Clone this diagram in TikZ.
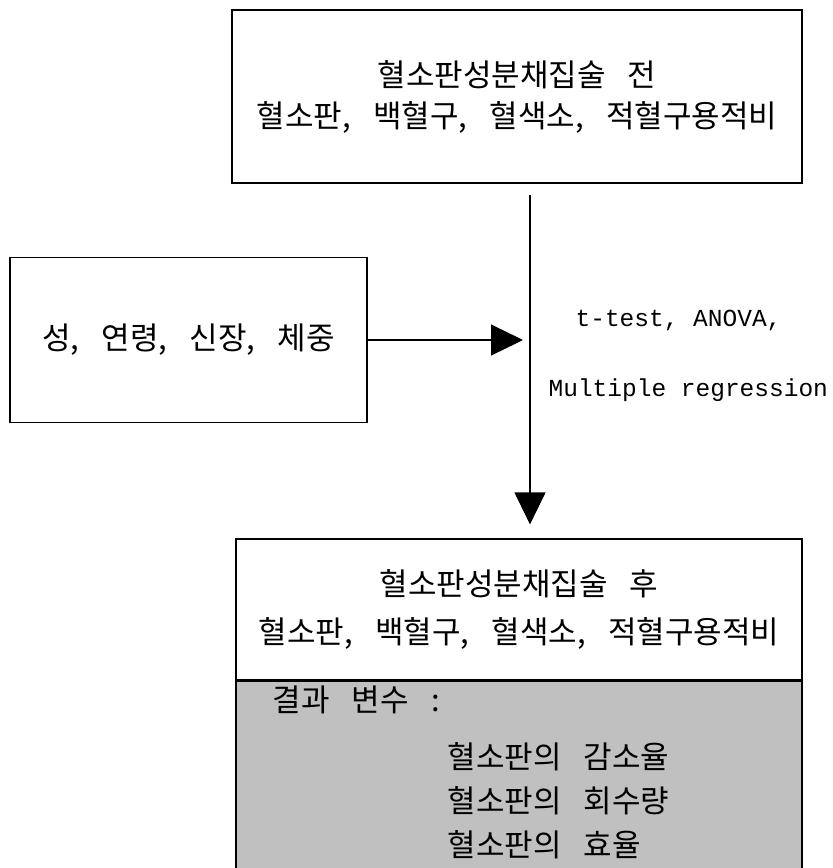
\documentclass[tikz,border=0pt]{standalone}
\usepackage{fontspec}
\setmainfont{Noto Sans CJK KR}[WordSpace=3.2]
\newfontfamily\monofont{Liberation Mono}
\usetikzlibrary{arrows.meta, positioning}
\definecolor{boxgray}{RGB}{192,192,192}

\tikzset{
  box/.style={draw, line width=1.2pt, inner sep=0pt, align=center,
    font=\fontsize{31}{41}\selectfont},
  stattext/.style={inner sep=0pt, font=\monofont\fontsize{24.5}{30}\selectfont},
  kortext/.style={inner sep=0pt, align=left, font=\fontsize{31}{44}\selectfont}
}

\begin{document}
\begin{tikzpicture}[>={Triangle[length=32pt, width=31pt]}, x=1pt, y=-1pt, line width=1.2pt]
\useasboundingbox (0,0) rectangle (833,868);

% boxes
\node[box, minimum width=570pt, minimum height=173pt] (before) at (517, 96.5)
  {혈소판성분채집술 전\\혈소판, 백혈구, 혈색소, 적혈구용적비};

\node[box, minimum width=357pt, minimum height=165pt] (covar) at (188.5, 340)
  {성, 연령, 신장, 체중};

\node[box, minimum width=566pt, minimum height=141pt,
  font=\fontsize{31}{48}\selectfont] (after) at (519, 609.5)
  {혈소판성분채집술 후\\혈소판, 백혈구, 혈색소, 적혈구용적비};

\node[box, fill=boxgray, minimum width=566pt, minimum height=192pt, anchor=north]
  (result) at (after.south) {};

\node[kortext, anchor=west] (outvar) at (272, 700) {결과 변수 :};
\node[kortext, anchor=west] (outlist) at (447, 801)
  {혈소판의 감소율\\혈소판의 회수량\\혈소판의 효율};

% arrows
\coordinate (join) at (530, 340);
\draw[->, shorten >=7pt] (covar.east) -- (join);
\draw[->, shorten <=11pt, shorten >=14pt] (before.south -| join) -- (after.north -| join);

\node[stattext, anchor=west] (tests) at (575, 320) {t-test, ANOVA,};
\node[stattext, anchor=west] (regress) at (548, 390) {Multiple regression};

\end{tikzpicture}
\end{document}
